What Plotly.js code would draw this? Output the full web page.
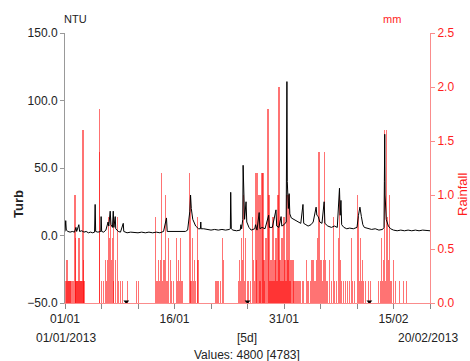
<!DOCTYPE html>
<html>
<head>
<meta charset="utf-8">
<script src="https://cdn.plot.ly/plotly-3.0.1.min.js"></script>
<style>html,body{margin:0;padding:0;background:#fff;}#chart{width:470px;height:361px;}</style>
</head>
<body>
<div id="chart"></div>
<script>
// Days since 01/01/2013 00:00
var turbDays = [0.00,0.10,0.18,0.4,0.7,1.0,1.3,1.5,1.6,1.9,2.0,2.3,2.6,2.9,3.2,3.5,3.8,4.05,4.13,4.2,4.5,4.9,4.95,5.02,5.3,5.6,5.9,6.0,6.19,6.3,6.5,6.61,6.7,6.88,6.95,7.3,7.6,7.98,8.05,8.5,9.0,9.5,10.0,10.5,11.0,11.5,12.0,12.5,13.0,13.5,13.9,14.0,14.5,15.0,15.5,16.0,16.5,16.8,17.0,17.1,17.2,17.3,17.5,17.7,17.9,18.1,18.3,18.55,18.6,18.65,19.0,19.5,20.0,20.5,21.0,21.5,22.0,22.5,22.65,22.7,22.78,23.0,23.5,24.0,24.1,24.2,24.35,24.4,24.5,24.6,24.8,24.9,25.2,25.5,26.0,26.1,26.3,26.6,26.7,27.0,27.4,27.9,28.0,28.4,28.9,29.0,29.3,29.6,29.7,30.0,30.3,30.35,30.4,30.45,30.6,30.7,30.8,31.0,31.3,31.6,32.0,32.3,32.6,32.7,33.0,33.3,33.7,34.0,34.4,34.5,34.7,34.9,35.2,35.5,35.6,36.0,36.5,36.9,37.3,37.6,37.7,37.8,37.9,38.2,38.6,39.0,39.5,40.0,40.2,40.4,40.6,40.8,41.0,41.5,42.0,42.5,43.0,43.5,43.7,43.75,43.8,43.85,44.0,44.3,44.6,45.0,45.5,46.0,46.5,47.0,47.5,48.0,48.5,49.0,49.5,50.0];
var turbNTU = [3,11,4,3,2.5,3,2.5,6,3,8,3,3.5,2.5,3,2,2.5,2,2.5,23,3,2.5,3,14,3,2.5,4,10,7,18,8,6,18,6,14,5,3,2.5,9,3,2,2.5,2,2,2.5,2,2.5,2,2.5,2,3,13,3,3,3.5,3,3.5,3,4,12,18,30,20,12,9,7,6,5,5,10,5,5,4.5,4,4.5,4,4.5,4,4.5,5,32,5,4,3.5,4,8,5,12,52,20,12,25,10,6,4,5,8,4,17,5,6,5,15,6,6,19,7,6,14,7,8,10,73,114,40,20,31,16,13,12,11,10,9,23,9,8,7,8,10,21,15,14,10,9,25,9,7,6,7,6,35,15,26,8,6,5,5.5,5,6,15,21,14,8,6,5,4.5,5,4,4.5,6,40,75,30,12,7,5,4,3.5,4,3.5,4,3.5,4,3.5,4,3.5,3.5];

var rainDays = [0.14,0.28,0.41,0.55,0.69,0.83,1.10,1.38,1.44,1.51,1.65,1.79,1.93,2.06,2.20,2.34,2.48,2.55,2.61,
4.68,4.72,4.95,5.23,5.50,5.64,5.78,5.92,6.05,6.19,6.33,6.47,6.61,6.67,6.88,7.16,7.29,7.57,7.84,8.53,9.77,10.05,
12.38,12.52,12.66,12.80,12.94,13.07,13.21,13.35,13.49,13.62,13.76,13.90,14.04,14.18,14.45,14.59,14.86,15.27,15.41,15.55,15.69,15.83,15.96,16.10,17.06,17.20,17.27,17.48,17.61,17.75,17.89,18.16,18.23,
20.64,20.78,20.92,21.05,21.33,21.60,21.67,
23.81,23.95,24.08,24.22,24.36,24.50,24.63,24.77,25.05,25.18,25.46,25.73,25.87,26.01,26.15,26.28,26.42,26.56,26.70,26.83,26.97,27.11,27.25,27.38,27.52,27.80,27.93,28.07,28.21,28.35,28.49,28.62,28.76,28.90,29.04,29.17,29.31,29.45,29.59,29.72,29.86,30.00,30.14,30.27,30.41,30.55,30.69,30.82,30.96,31.24,31.37,31.65,31.92,32.20,32.61,33.03,33.30,33.58,33.85,33.99,34.13,34.27,34.40,34.54,34.68,34.82,34.95,35.09,35.23,35.37,35.50,35.64,35.78,35.92,36.19,36.47,36.74,36.88,
37.16,37.43,37.57,37.71,37.84,38.12,38.39,38.67,38.94,39.22,39.36,39.63,40.05,40.18,40.32,40.46,40.60,40.73,40.87,41.15,41.56,41.83,
42.94,43.21,43.35,43.49,43.63,43.76,43.90,44.04,44.17,44.31,44.45,44.59,44.72,45.00,45.28,45.83,46.38,46.79];
var rainMM = [0.2,0.4,0.2,0.2,0.2,0.2,0.2,1.0,0.6,0.2,0.2,0.2,0.6,0.2,0.2,0.2,1.6,0.4,0.2,
1.8,1.4,0.2,0.2,0.4,0.2,0.4,0.8,0.6,0.8,0.4,0.6,0.8,0.2,0.4,0.8,0.2,0.2,0.2,0.2,0.2,0.2,
0.8,0.2,0.2,0.4,0.2,0.4,1.2,0.2,0.4,0.4,1.0,0.2,0.2,0.6,0.4,0.2,0.2,0.6,0.2,0.4,0.2,0.6,0.2,0.2,1.2,1.0,0.2,0.6,0.2,0.4,0.2,0.8,0.4,
0.2,0.2,0.2,0.2,0.2,0.6,0.4,
0.2,0.4,0.2,0.6,0.4,1.0,0.2,0.6,0.2,0.2,0.2,0.8,0.4,0.2,1.2,0.4,1.2,1.0,0.2,1.0,1.2,1.2,0.4,0.2,0.6,1.8,1.0,0.2,0.4,0.2,0.8,0.2,0.4,0.6,0.2,1.0,2.0,0.4,0.2,0.6,0.2,0.8,0.4,0.2,1.0,0.4,1.0,0.2,0.4,0.4,0.2,0.2,0.2,0.2,0.2,0.4,0.2,0.2,0.4,0.4,0.2,0.2,0.4,0.6,1.4,1.4,0.4,0.4,0.2,0.4,1.4,0.4,0.2,0.2,0.4,0.2,0.8,0.2,
0.2,0.6,1.0,0.4,0.2,0.2,0.2,0.2,0.2,0.6,0.2,0.2,1.0,0.8,0.2,0.6,0.2,0.4,0.2,0.2,0.2,0.2,
0.2,0.2,0.6,0.2,0.4,1.6,0.2,1.6,0.8,0.4,1.0,0.2,0.2,0.4,0.2,0.2,0.2,0.2];

var gapDays = [8.4, 25.0, 41.7];
var gapNTU = [-49, -49, -49];

var xTickVals = [0,5,10,15,20,25,30,35,40,45,50];
var xTickText = ['01/01','','','16/01','','','31/01','','','15/02',''];
var turbTicks = [-50,0,50,100,150];
var rainTicks = [0,0.5,1.0,1.5,2.0,2.5];

var red = 'rgb(255,30,30)';
var pink = 'rgb(250,140,140)';
var txt = '#222';
var fontFam = 'Liberation Sans, Arial, sans-serif';

var traces = [
  {type:'bar', x:rainDays, y:rainMM, xaxis:'x', yaxis:'y', width:0.17,
   marker:{color:'rgba(255,0,0,0.55)', line:{width:0}}, hoverinfo:'skip'},
  {type:'scatter', mode:'lines', x:turbDays, y:turbNTU, xaxis:'x', yaxis:'y2',
   line:{color:'#000', width:1}, hoverinfo:'skip'},
  {type:'scatter', mode:'markers', x:gapDays, y:gapNTU, xaxis:'x', yaxis:'y2',
   marker:{symbol:'triangle-down', size:5, color:'#000'}, hoverinfo:'skip'}
];

function px2x(p){ return (p-65)/365; }
function py2y(p){ return (303-p)/270; }

var layout = {
  width:470, height:361,
  margin:{l:65, r:40, t:33, b:58, pad:0},
  paper_bgcolor:'#fff', plot_bgcolor:'#fff',
  showlegend:false, barmode:'overlay', bargap:0,
  font:{family:fontFam, size:12, color:txt},
  xaxis:{range:[0,50], tickmode:'array', tickvals:xTickVals, ticktext:xTickText,
         showgrid:false, zeroline:false, showline:true, linecolor:pink, linewidth:1,
         ticks:'outside', ticklen:5, tickcolor:'#888', tickwidth:1,
         tickfont:{size:12, color:txt}},
  yaxis:{range:[0,2.5], side:'right', tickmode:'array', tickvals:rainTicks, tickformat:'.1f',
         showgrid:false, zeroline:false, showline:true, linecolor:pink, linewidth:1,
         ticks:'outside', ticklen:4, tickcolor:pink, tickfont:{size:12, color:red}},
  yaxis2:{range:[-50,150], overlaying:'y', side:'left', tickmode:'array', tickvals:turbTicks, tickformat:'.1f',
          showgrid:false, zeroline:false, showline:true, linecolor:'#999', linewidth:1,
          ticks:'outside', ticklen:4, tickcolor:'#999', tickfont:{size:12, color:txt}},
  annotations:[
    {text:'NTU', xref:'paper', yref:'paper', x:px2x(75), y:py2y(19), xanchor:'center', yanchor:'middle', showarrow:false, font:{size:11, color:txt}},
    {text:'mm', xref:'paper', yref:'paper', x:px2x(392), y:py2y(19), xanchor:'center', yanchor:'middle', showarrow:false, font:{size:11, color:red}},
    {text:'<b>Turb</b>', xref:'paper', yref:'paper', x:px2x(18), y:py2y(204), xanchor:'center', yanchor:'middle', textangle:-90, showarrow:false, font:{size:13, color:txt}},
    {text:'Rainfall', xref:'paper', yref:'paper', x:px2x(462), y:py2y(195), xanchor:'center', yanchor:'middle', textangle:-90, showarrow:false, font:{size:13, color:red}},
    {text:'01/01/2013', xref:'paper', yref:'paper', x:px2x(66), y:py2y(338), xanchor:'center', yanchor:'middle', showarrow:false, font:{size:12, color:txt}},
    {text:'[5d]', xref:'paper', yref:'paper', x:px2x(247), y:py2y(338), xanchor:'center', yanchor:'middle', showarrow:false, font:{size:12, color:txt}},
    {text:'20/02/2013', xref:'paper', yref:'paper', x:px2x(428), y:py2y(338), xanchor:'center', yanchor:'middle', showarrow:false, font:{size:12, color:txt}},
    {text:'Values: 4800 [4783]', xref:'paper', yref:'paper', x:px2x(247), y:py2y(355), xanchor:'center', yanchor:'middle', showarrow:false, font:{size:12, color:txt}}
  ]
};

Plotly.newPlot('chart', traces, layout, {staticPlot:true, displayModeBar:false});
</script>
</body>
</html>
